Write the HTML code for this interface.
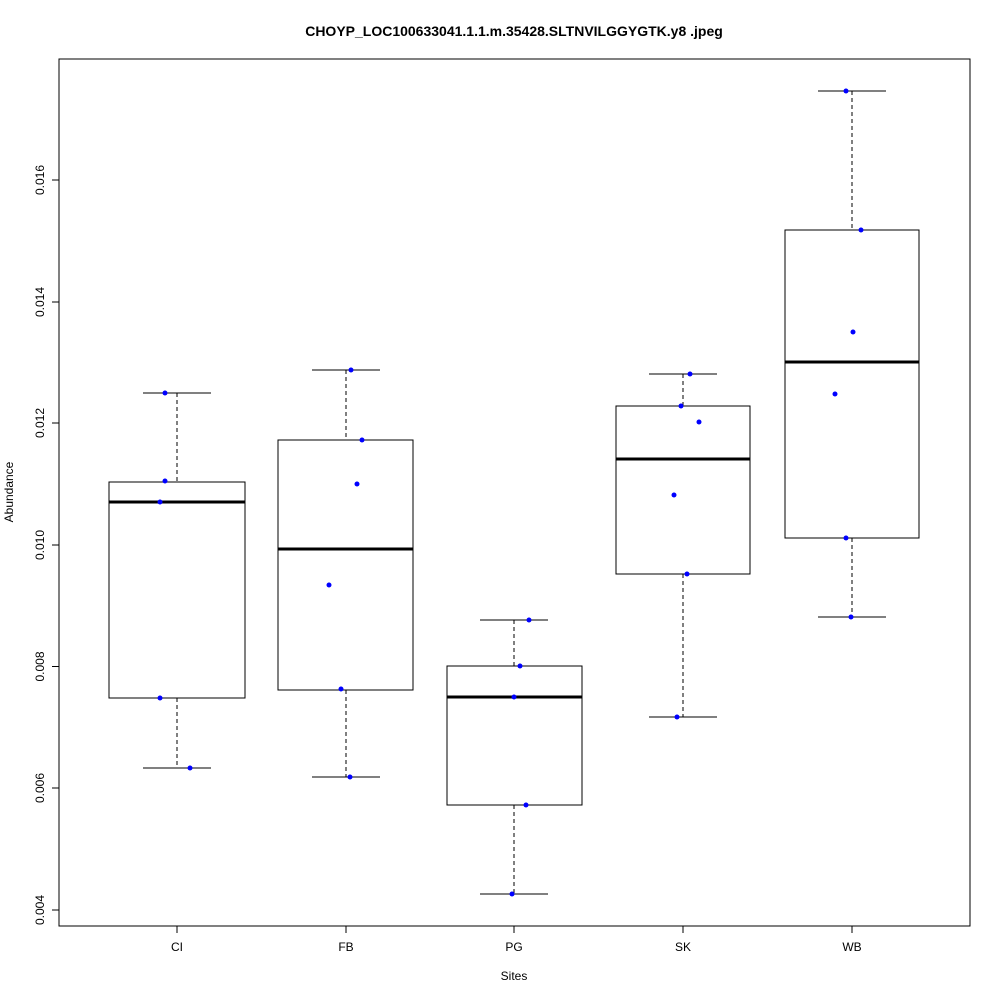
<!DOCTYPE html>
<html><head><style>body{margin:0;background:#fff}</style></head><body>
<svg width="1000" height="1000" xmlns="http://www.w3.org/2000/svg" font-family="Liberation Sans, sans-serif">
<rect width="1000" height="1000" fill="#fff"/>
<text x="514" y="36" text-anchor="middle" font-size="14" font-weight="bold">CHOYP_LOC100633041.1.1.m.35428.SLTNVILGGYGTK.y8 .jpeg</text>
<rect x="59" y="59" width="911" height="867" fill="none" stroke="#000"/>
<g stroke="#000">
<line x1="59" y1="910" x2="59" y2="180"/>
<line x1="59" y1="910" x2="52" y2="910"/><line x1="59" y1="788" x2="52" y2="788"/><line x1="59" y1="666.5" x2="52" y2="666.5"/><line x1="59" y1="545" x2="52" y2="545"/><line x1="59" y1="423" x2="52" y2="423"/><line x1="59" y1="302" x2="52" y2="302"/><line x1="59" y1="180" x2="52" y2="180"/>
<line x1="177" y1="926" x2="852" y2="926"/>
<line x1="177" y1="926" x2="177" y2="933"/><line x1="346" y1="926" x2="346" y2="933"/><line x1="514" y1="926" x2="514" y2="933"/><line x1="683" y1="926" x2="683" y2="933"/><line x1="852" y1="926" x2="852" y2="933"/>
</g>
<g font-size="12" text-anchor="middle">
<text transform="translate(44,910) rotate(-90)">0.004</text>
<text transform="translate(44,788) rotate(-90)">0.006</text>
<text transform="translate(44,666.5) rotate(-90)">0.008</text>
<text transform="translate(44,545) rotate(-90)">0.010</text>
<text transform="translate(44,423) rotate(-90)">0.012</text>
<text transform="translate(44,302) rotate(-90)">0.014</text>
<text transform="translate(44,180) rotate(-90)">0.016</text>
<text x="177" y="951">CI</text><text x="346" y="951">FB</text><text x="514" y="951">PG</text><text x="683" y="951">SK</text><text x="852" y="951">WB</text>
<text x="514" y="980">Sites</text>
<text transform="translate(13,492) rotate(-90)">Abundance</text>
</g>
<g fill="none" stroke="#000">
<!-- CI -->
<line x1="177" y1="393" x2="177" y2="482" stroke-dasharray="4,3"/><line x1="177" y1="698" x2="177" y2="768" stroke-dasharray="4,3"/>
<line x1="143" y1="393" x2="211" y2="393"/><line x1="143" y1="768" x2="211" y2="768"/>
<rect x="109" y="482" width="136" height="216"/><line x1="109" y1="502" x2="245" y2="502" stroke-width="3"/>
<!-- FB -->
<line x1="346" y1="370" x2="346" y2="440" stroke-dasharray="4,3"/><line x1="346" y1="690" x2="346" y2="777" stroke-dasharray="4,3"/>
<line x1="312" y1="370" x2="380" y2="370"/><line x1="312" y1="777" x2="380" y2="777"/>
<rect x="278" y="440" width="135" height="250"/><line x1="278" y1="549" x2="413" y2="549" stroke-width="3"/>
<!-- PG -->
<line x1="514" y1="620" x2="514" y2="666" stroke-dasharray="4,3"/><line x1="514" y1="805" x2="514" y2="894" stroke-dasharray="4,3"/>
<line x1="480" y1="620" x2="548" y2="620"/><line x1="480" y1="894" x2="548" y2="894"/>
<rect x="447" y="666" width="135" height="139"/><line x1="447" y1="697" x2="582" y2="697" stroke-width="3"/>
<!-- SK -->
<line x1="683" y1="374" x2="683" y2="406" stroke-dasharray="4,3"/><line x1="683" y1="574" x2="683" y2="717" stroke-dasharray="4,3"/>
<line x1="649" y1="374" x2="717" y2="374"/><line x1="649" y1="717" x2="717" y2="717"/>
<rect x="616" y="406" width="134" height="168"/><line x1="616" y1="459" x2="750" y2="459" stroke-width="3"/>
<!-- WB -->
<line x1="852" y1="91" x2="852" y2="230" stroke-dasharray="4,3"/><line x1="852" y1="538" x2="852" y2="617" stroke-dasharray="4,3"/>
<line x1="818" y1="91" x2="886" y2="91"/><line x1="818" y1="617" x2="886" y2="617"/>
<rect x="785" y="230" width="134" height="308"/><line x1="785" y1="362" x2="919" y2="362" stroke-width="3"/>
</g>
<g fill="#00f">
<circle cx="165" cy="393" r="2.5"/><circle cx="165" cy="481" r="2.5"/><circle cx="160" cy="502" r="2.5"/><circle cx="160" cy="698" r="2.5"/><circle cx="190" cy="768" r="2.5"/>
<circle cx="351" cy="370" r="2.5"/><circle cx="362" cy="440" r="2.5"/><circle cx="357" cy="484" r="2.5"/><circle cx="329" cy="585" r="2.5"/><circle cx="341" cy="689" r="2.5"/><circle cx="350" cy="777" r="2.5"/>
<circle cx="529" cy="620" r="2.5"/><circle cx="520" cy="666" r="2.5"/><circle cx="514" cy="697" r="2.5"/><circle cx="526" cy="805" r="2.5"/><circle cx="512" cy="894" r="2.5"/>
<circle cx="690" cy="374" r="2.5"/><circle cx="681" cy="406" r="2.5"/><circle cx="699" cy="422" r="2.5"/><circle cx="674" cy="495" r="2.5"/><circle cx="687" cy="574" r="2.5"/><circle cx="677" cy="717" r="2.5"/>
<circle cx="846" cy="91" r="2.5"/><circle cx="861" cy="230" r="2.5"/><circle cx="853" cy="332" r="2.5"/><circle cx="835" cy="394" r="2.5"/><circle cx="846" cy="538" r="2.5"/><circle cx="851" cy="617" r="2.5"/>
</g>
</svg>
</body></html>
